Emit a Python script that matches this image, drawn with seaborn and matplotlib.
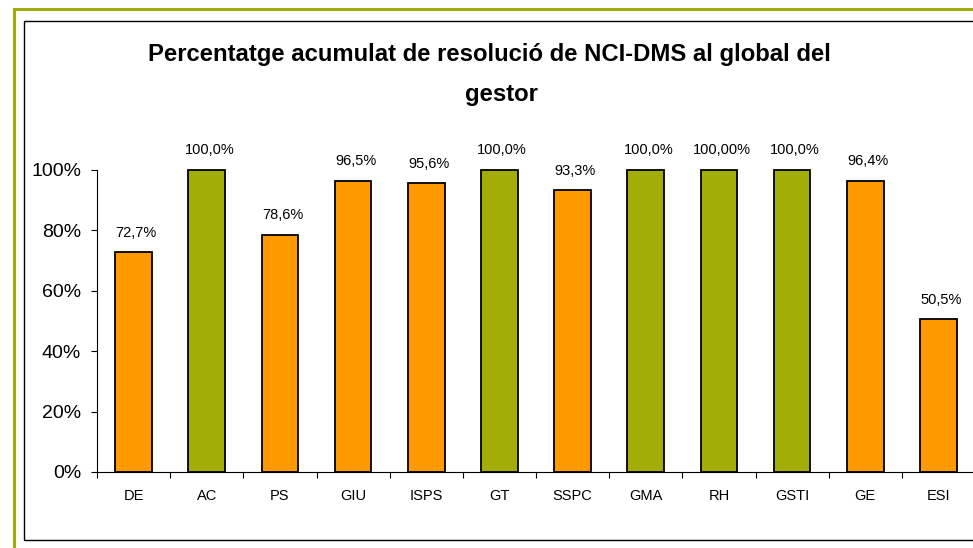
import numpy as np
import pandas as pd
import seaborn as sns
import matplotlib.pyplot as plt
from matplotlib.patches import Rectangle

## Data
categories = ['DE', 'AC', 'PS', 'GIU', 'ISPS', 'GT', 'SSPC', 'GMA', 'RH', 'GSTI', 'GE', 'ESI']
values = [0.727, 1.0, 0.786, 0.965, 0.956, 1.0, 0.933, 1.0, 1.0, 1.0, 0.964, 0.505]
bar_labels = ['72,7%', '100,0%', '78,6%', '96,5%', '95,6%', '100,0%', '93,3%',
              '100,0%', '100,00%', '100,0%', '96,4%', '50,5%']
groups = ['o', 'g', 'o', 'o', 'o', 'g', 'o', 'g', 'g', 'g', 'o', 'o']
ytick_vals = [0, 0.2, 0.4, 0.6, 0.8, 1.0]
ytick_labels = ['0%', '20%', '40%', '60%', '80%', '100%']
title_lines = ['Percentatge acumulat de resolució de NCI-DMS al global del', 'gestor']

ORANGE = '#FF9900'
OLIVE = '#A3AD07'

df = pd.DataFrame({'cat': categories, 'val': values, 'grp': groups})

sns.set_style('white')
plt.rcParams['font.family'] = ['Liberation Sans', 'DejaVu Sans']
plt.rcParams['text.color'] = 'black'
plt.rcParams['xtick.color'] = 'black'
plt.rcParams['ytick.color'] = 'black'

fig = plt.figure(figsize=(9.73, 5.48), dpi=100)

## frame lines around the chart
fig.patches.append(Rectangle((14 / 973, -0.2), 1.2, 1.2 - 9 / 548, transform=fig.transFigure,
                             fill=False, edgecolor=OLIVE, linewidth=2.2, zorder=0))
fig.patches.append(Rectangle((24 / 973, 8 / 548), 1.2, 1 - 29 / 548, transform=fig.transFigure,
                             fill=False, edgecolor='black', linewidth=1.0, zorder=0))

ax = fig.add_axes([97 / 973, 1 - 472 / 548, 878 / 973, 302 / 548])
ax.patch.set_alpha(0)

sns.barplot(data=df, x='cat', y='val', hue='grp', palette={'o': ORANGE, 'g': OLIVE},
            dodge=False, width=0.5, legend=False, edgecolor='black', linewidth=1.3,
            saturation=1, ax=ax)

for i, (v, lab) in enumerate(zip(values, bar_labels)):
    ax.annotate(lab, (i, v), xytext=(2, 9), textcoords='offset points',
                ha='center', va='bottom', fontsize=10.5, color='black',
                annotation_clip=False)

for p in ax.patches:
    p.set_clip_on(False)

ax.set_xlim(-0.5, len(categories) - 0.5)
ax.set_ylim(0, 1.0)
ax.set_yticks(ytick_vals)
ax.set_yticklabels(ytick_labels, fontsize=14)
ax.set_xticks(range(len(categories)))
ax.set_xticklabels(categories, fontsize=10.5)
ax.set_xticks(np.arange(-0.5, len(categories), 1), minor=True)
ax.tick_params(axis='x', which='major', length=0, pad=12)
ax.tick_params(axis='x', which='minor', length=4, width=0.8, direction='out', bottom=True)
ax.tick_params(axis='y', length=4, width=0.8, direction='out', left=True, pad=7.5)
ax.set_xlabel('')
ax.set_ylabel('')
for s in ['top', 'right']:
    ax.spines[s].set_visible(False)
for s in ['left', 'bottom']:
    ax.spines[s].set_color('black')
    ax.spines[s].set_linewidth(0.8)

# title, two centred lines
fig.text(489 / 973, 1 - 55 / 548, title_lines[0], ha='center', va='center',
         fontsize=17.2, fontweight='bold')
fig.text(501 / 973, 1 - 95 / 548, title_lines[1], ha='center', va='center',
         fontsize=17.2, fontweight='bold')

plt.savefig('out.png', dpi=100)
